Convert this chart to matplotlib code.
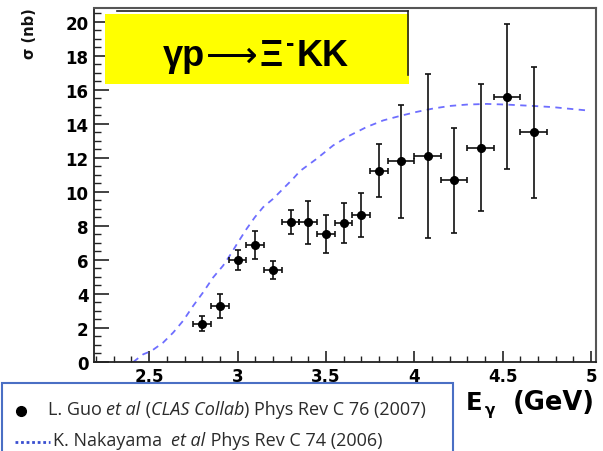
import matplotlib
matplotlib.use("Agg")
import matplotlib.pyplot as plt
from matplotlib.patches import Rectangle
from matplotlib.lines import Line2D
from matplotlib.offsetbox import TextArea, HPacker, AnnotationBbox
from matplotlib.ticker import MultipleLocator

# ---- data ----
energy = [2.8, 2.9, 3.0, 3.1, 3.2, 3.3, 3.4, 3.5, 3.6, 3.7, 3.8,
          3.925, 4.075, 4.225, 4.375, 4.525, 4.675]
sigma = [2.26, 3.29, 5.98, 6.88, 5.39, 8.24, 8.20, 7.53, 8.18, 8.65, 11.24,
         11.79, 12.10, 10.69, 12.59, 15.59, 13.49]
energy_err = [0.05, 0.05, 0.05, 0.05, 0.05, 0.05, 0.05, 0.05, 0.05, 0.05, 0.05,
              0.075, 0.075, 0.075, 0.075, 0.075, 0.075]
sigma_err = [0.44, 0.70, 0.59, 0.83, 0.52, 0.70, 1.24, 1.10, 1.16, 1.30, 1.55,
             3.34, 4.80, 3.09, 3.74, 4.26, 3.87]

model_e = [2.41, 2.466, 2.513, 2.579, 2.636, 2.692, 2.749, 2.805, 2.862, 2.918,
           2.956, 3.003, 3.051, 3.098, 3.145, 3.201, 3.315, 3.353, 3.447, 3.541,
           3.636, 3.73, 3.824, 3.918, 4.013, 4.107, 4.201, 4.296, 4.409, 4.522,
           4.673, 4.786, 4.862, 4.994]
model_sigma = [0.0, 0.45, 0.65, 1.14, 1.73, 2.42, 3.30, 4.09, 4.97, 5.66,
               6.25, 7.04, 7.82, 8.51, 9.10, 9.59, 10.78, 11.22, 11.94, 12.73,
               13.32, 13.81, 14.20, 14.46, 14.70, 14.90, 15.05, 15.13, 15.17, 15.13,
               15.05, 14.98, 14.90, 14.77]

x_ticks = [2.5, 3, 3.5, 4, 4.5, 5]
x_ticklabels = ["2.5", "3", "3.5", "4", "4.5", "5"]
y_ticks = [0, 2, 4, 6, 8, 10, 12, 14, 16, 18, 20]
y_ticklabels = [str(v) for v in y_ticks]

title_main = "γp"
title_arrow = "⟶"
title_xi = "Ξ"
title_sup = "-"
title_tail = "KK"
legend_line1 = [("L. Guo ", "normal"), ("et al", "italic"), (" (", "normal"),
                ("CLAS Collab", "italic"), (") Phys Rev C 76 (2007)", "normal")]
legend_line2 = [("K. Nakayama  ", "normal"), ("et al", "italic"),
                (" Phys Rev C 74 (2006)", "normal")]

# ---- figure ----
W, H = 603, 452
fig = plt.figure(figsize=(W / 100, H / 100), dpi=100)
fig.patch.set_facecolor("white")
renderer = fig.canvas.get_renderer()

def fx(px):
    return px / W

def fy(py):
    return 1 - py / H

ax_l, ax_r, ax_t, ax_b = 94, 596, 9.3, 363
ax = fig.add_axes([fx(ax_l), fy(ax_b), (ax_r - ax_l) / W, (ax_b - ax_t) / H])

wide_bold = ["DejaVu Sans"]
arial_bold = ["Liberation Sans", "DejaVu Sans"]

ax.plot(model_e, model_sigma, linestyle=(0, (3.5, 3)), color="#5555ff",
        linewidth=1.3, alpha=0.85, zorder=2)
ax.errorbar(energy, sigma, xerr=energy_err, yerr=sigma_err, fmt="o",
            color="black", ecolor="#111111", markersize=5.5, elinewidth=1.2,
            capsize=2.5, capthick=1.2, zorder=3)

ax.set_xlim(2.188, 5.028)
ax.set_ylim(0, 20.79)
ax.set_xticks(x_ticks)
ax.set_xticklabels(x_ticklabels)
ax.set_yticks(y_ticks)
ax.set_yticklabels(y_ticklabels)
ax.xaxis.set_minor_locator(MultipleLocator(0.1))
ax.yaxis.set_minor_locator(MultipleLocator(0.5))
ax.tick_params(axis="both", which="both", direction="in", top=False, right=False,
               color="#222222")
ax.tick_params(axis="y", which="major", length=10.5, width=1.2, pad=4)
ax.tick_params(axis="y", which="minor", length=5, width=1.0)
ax.tick_params(axis="x", which="major", length=8, width=1.2, pad=3.5)
ax.tick_params(axis="x", which="minor", length=4.5, width=1.0)
for lab in ax.get_xticklabels() + ax.get_yticklabels():
    lab.set_family(wide_bold)
    lab.set_fontweight("bold")
    lab.set_fontsize(12)
for side in ["left", "bottom"]:
    ax.spines[side].set_color("#222222")
    ax.spines[side].set_linewidth(1.3)
for side in ["top", "right"]:
    ax.spines[side].set_color("#555555")
    ax.spines[side].set_linewidth(1.5)

# y axis title
fig.text(fx(29), fy(8), "σ (nb)", rotation=90, ha="center", va="top",
         family=wide_bold, fontweight="bold", fontsize=10.5, color="#111111")

# x axis title: E_gamma (GeV)
fig.text(fx(466), fy(410), "E", ha="left", va="baseline", family=wide_bold,
         fontweight="bold", fontsize=17.5, color="black")
fig.text(fx(485), fy(415), "γ", ha="left", va="baseline", family=wide_bold,
         fontweight="bold", fontsize=11, color="black")
fig.text(fx(595), fy(410), "(GeV)", ha="right", va="baseline", family=wide_bold,
         fontweight="bold", fontsize=18.5, color="black")

# title box (yellow) with frame lines
fig.patches.append(Rectangle((fx(105), fy(85)), 304 / W, 70 / H,
                             transform=fig.transFigure, facecolor="#ffff00",
                             edgecolor="none", zorder=5))
fig.lines.append(Line2D([fx(117), fx(408)], [fy(12), fy(12)],
                        transform=fig.transFigure, color="#222222", lw=1.2, zorder=6))
fig.lines.append(Line2D([fx(408), fx(408)], [fy(12), fy(76)],
                        transform=fig.transFigure, color="#222222", lw=1.2, zorder=6))

# title text built from pieces (thin long arrow, raised minus)
base_y = fy(66.5)
pieces = [
    (title_main, base_y, dict(family=arial_bold, fontweight="bold", fontsize=26), 0),
    (title_arrow, base_y, dict(family=["DejaVu Sans"], fontweight="normal", fontsize=26), 1),
    (title_xi, base_y, dict(family=arial_bold, fontweight="bold", fontsize=26), 1),
    (title_sup, fy(51), dict(family=arial_bold, fontweight="bold", fontsize=18), 4),
    (title_tail, base_y, dict(family=arial_bold, fontweight="bold", fontsize=26), 2),
]
texts = []
widths = []
gaps = []
for s, yy, kw, gap in pieces:
    t = fig.text(0, yy, s, color="black", zorder=7, va="baseline", ha="left", **kw)
    texts.append(t)
    widths.append(t.get_window_extent(renderer).width)
    gaps.append(gap)
total = sum(widths) + sum(gaps)
cur = 256 - total / 2
for t, w, g in zip(texts, widths, gaps):
    cur += g
    t.set_x(fx(cur))
    cur += w

# legend box
fig.patches.append(Rectangle((fx(2), fy(470)), 451 / W, 86 / H,
                             transform=fig.transFigure, facecolor="white",
                             edgecolor="#4a6fc4", lw=1.5, zorder=5))
fig.lines.append(Line2D([fx(20.7)], [fy(412.3)], transform=fig.transFigure,
                        marker="o", markersize=7, color="black", zorder=6))
fig.lines.append(Line2D([fx(15), fx(50)], [fy(442.7), fy(442.7)],
                        transform=fig.transFigure, color="#3a4fd0",
                        linestyle=(0, (1, 1)), lw=2, zorder=6))

leg_font = ["Open Sans", "DejaVu Sans"]

# fit the legend font so the first line spans the same width as in the reference
probe = fig.text(0, 0, "".join(t for t, _ in legend_line1), family=leg_font,
                 fontsize=10.0)
pw = probe.get_window_extent(renderer).width
probe.remove()
leg_size = 10.0 * 385.0 / pw

def make_line(parts, size):
    areas = [TextArea(t, textprops=dict(family=leg_font, style=s, fontsize=size,
                                        color="#2b2b2b"))
             for t, s in parts]
    return HPacker(children=areas, align="baseline", pad=0, sep=0)

for parts, (px, py) in [(legend_line1, (48, 410)), (legend_line2, (53, 441))]:
    ab = AnnotationBbox(make_line(parts, leg_size), (fx(px), fy(py)),
                        xycoords="figure fraction",
                        box_alignment=(0, 0.5), frameon=False, pad=0, zorder=7)
    fig.add_artist(ab)

fig.savefig("out.png", dpi=100)
